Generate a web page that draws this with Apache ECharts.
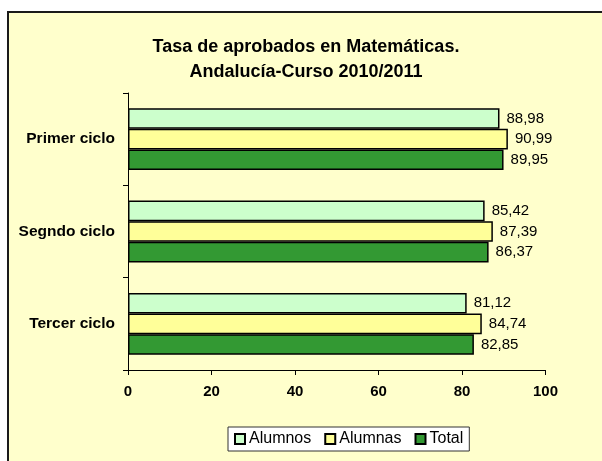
<!DOCTYPE html>
<html>
<head>
<meta charset="utf-8">
<script src="https://cdn.jsdelivr.net/npm/echarts@6/dist/echarts.min.js"></script>
<style>
  html, body { margin: 0; padding: 0; background: #ffffff; }
  #chart { width: 602px; height: 461px; }
</style>
</head>
<body>
<div id="chart"></div>
<script>
// Categories, listed bottom to top on the vertical axis
const ciclos = ['Tercer ciclo', 'Segndo ciclo', 'Primer ciclo'];
// Pass rates (%) per cycle, same order as ciclos
const alumnos = [81.12, 85.42, 88.98];
const alumnas = [84.74, 87.39, 90.99];
const total = [82.85, 86.37, 89.95];
const xTicks = [0, 20, 40, 60, 80, 100];

const FONT = '"Liberation Sans", Arial, sans-serif';

const chart = echarts.init(document.getElementById('chart'), null, { renderer: 'canvas' });

function barSeries(name, data, color) {
  return {
    name: name,
    type: 'bar',
    data: data,
    barGap: '0%',
    barCategoryGap: '33%',
    itemStyle: { color: color, borderColor: '#000000', borderWidth: 1.5 },
    label: {
      show: true,
      position: 'right',
      distance: 7,
      color: '#000000',
      fontFamily: FONT,
      fontSize: 15,
      formatter: p => p.value.toFixed(2).replace('.', ',')
    },
    emphasis: { disabled: true }
  };
}

chart.setOption({
  animation: false,
  backgroundColor: '#ffffff',
  graphic: [{
    type: 'rect',
    z: -10,
    shape: { x: 8, y: 12, width: 640, height: 500 },
    style: { fill: '#FFFFCC', stroke: '#1a1a1a', lineWidth: 2 }
  }],
  title: {
    text: 'Tasa de aprobados en Matemáticas.\nAndalucía-Curso 2010/2011',
    left: 301,
    top: 30,
    textAlign: 'center',
    textStyle: {
      fontFamily: FONT,
      fontSize: 18,
      fontWeight: 'bold',
      color: '#000000',
      lineHeight: 25
    }
  },
  legend: {
    data: ['Alumnos', 'Alumnas', 'Total'],
    left: 228,
    top: 427,
    icon: 'rect',
    itemWidth: 10,
    itemHeight: 10,
    itemGap: 13,
    padding: [4, 6],
    backgroundColor: '#ffffff',
    borderColor: '#333333',
    borderWidth: 1,
    borderRadius: 0,
    textStyle: { fontFamily: FONT, fontSize: 16, color: '#000000', padding: [0, 0, 0, -1] }
  },
  grid: { left: 128, right: 56.5, top: 93, bottom: 91, containLabel: false },
  xAxis: {
    type: 'value',
    min: xTicks[0],
    max: xTicks[xTicks.length - 1],
    interval: xTicks[1] - xTicks[0],
    axisLine: { show: true, lineStyle: { color: '#000000', width: 1 } },
    axisTick: { show: true, length: 5, lineStyle: { color: '#000000' } },
    splitLine: { show: false },
    axisLabel: {
      margin: 14,
      fontFamily: FONT,
      fontSize: 15,
      fontWeight: 'bold',
      color: '#000000'
    }
  },
  yAxis: {
    type: 'category',
    data: ciclos,
    axisLine: { show: true, lineStyle: { color: '#000000', width: 1 } },
    axisTick: { show: true, length: 5, lineStyle: { color: '#000000' } },
    axisLabel: {
      margin: 13,
      fontFamily: FONT,
      fontSize: 15.5,
      fontWeight: 'bold',
      color: '#000000'
    }
  },
  series: [
    barSeries('Alumnos', alumnos, '#CCFFCC'),
    barSeries('Alumnas', alumnas, '#FFFF99'),
    barSeries('Total', total, '#339933')
  ]
});
</script>
</body>
</html>
